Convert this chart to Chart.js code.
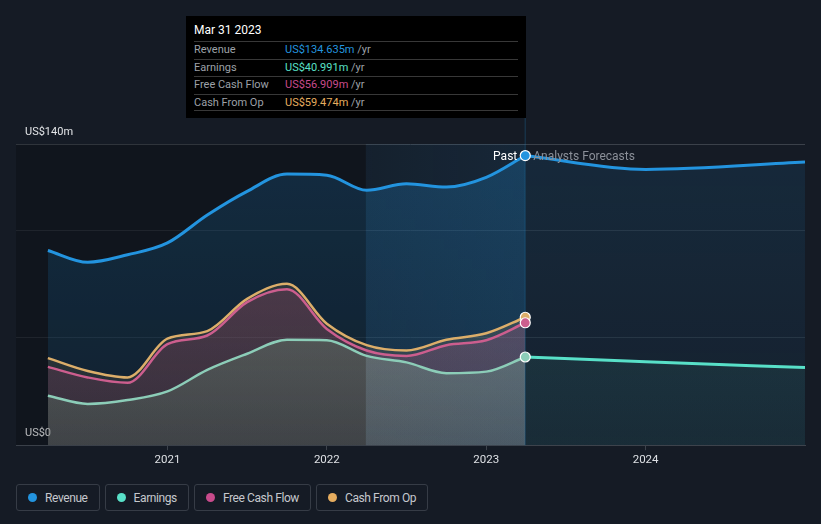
<!DOCTYPE html>
<html>
<head>
<meta charset="utf-8">
<script src="https://cdn.jsdelivr.net/npm/chart.js@4.4.1/dist/chart.umd.min.js"></script>
<style>
  html, body { margin: 0; padding: 0; background: #151b25; }
  body { width: 821px; height: 524px; position: relative; overflow: hidden; font-family: Roboto, "Noto Sans", sans-serif; }
  #wrap { position: absolute; left: 0; top: 0; width: 821px; height: 470px; }
  #tip { position: absolute; left: 186px; top: 16px; width: 340px; height: 102px; background: #000; }
  #tip .title { position: absolute; left: 8px; top: 7px; color: #fff; font-size: 12px; }
  #tip .row { position: absolute; left: 8px; width: 324px; height: 17px; border-top: 1px solid #383838; font-size: 11px; line-height: 15px; }
  #tip .lab { position: absolute; left: 0; color: #9da1a8; }
  #tip .val { position: absolute; left: 91px; }
  #tip .unit { color: #9da1a8; }
  #tip .last { position: absolute; left: 8px; width: 324px; top: 94px; border-top: 1px solid #383838; }
  #legend { position: absolute; left: 16px; top: 484px; display: flex; gap: 5px; }
  #legend .item { box-sizing: border-box; height: 27px; border: 1px solid #363c46; border-radius: 3px; padding: 0 11px 0 11px; display: flex; align-items: center; color: #c5c8cd; font-size: 12px; letter-spacing: -0.4px; font-family: Roboto, sans-serif; }
  #legend .dot { width: 9px; height: 9px; border-radius: 50%; margin-right: 8px; }
</style>
</head>
<body>
<div id="wrap"><canvas id="c"></canvas></div>
<div id="tip"></div>
<div id="legend"></div>
<script>
// ---------- data ----------
const seriesNames = ['Revenue', 'Earnings', 'Free Cash Flow', 'Cash From Op'];
const seriesColors = ['#2394df', '#58e0c8', '#c84b8c', '#e6ad5f'];
const pastX      = [2020.25, 2020.5, 2020.75, 2021.0, 2021.25, 2021.5, 2021.75, 2022.0, 2022.25, 2022.5, 2022.75, 2023.0, 2023.245];
const revenue    = [90.5, 85.0, 88.5, 94.0, 107.0, 118.0, 126.0, 125.5, 118.5, 121.5, 120.0, 124.5, 134.635];
const earnings   = [23.0, 19.2, 21.0, 25.0, 35.0, 42.5, 49.0, 48.8, 41.5, 38.5, 33.5, 34.2, 40.991];
const fcf        = [36.4, 31.5, 29.0, 47.0, 51.0, 66.5, 72.5, 54.0, 44.0, 41.5, 46.5, 48.8, 56.909];
const cfo        = [40.5, 34.5, 31.5, 49.5, 53.0, 68.0, 75.0, 56.5, 46.5, 44.0, 49.0, 52.0, 59.474];
const forecastX  = [2023.245, 2024.0, 2025.0];
const revenueFc  = [134.635, 128.2, 131.6];
const earningsFc = [40.991, 38.8, 36.1];
const yTicks     = [0, 50, 100, 140];
const xTicks     = [2021, 2022, 2023, 2024];
const highlightStart = 2022.245;
const tipDate = 'Mar 31 2023';

// ---------- helpers ----------
const pts = (xs, ys) => xs.map((x, i) => ({ x, y: ys[i] }));
function grad(r, g, b, aTop, aBot) {
  return (ctx) => {
    const ca = ctx.chart.chartArea;
    if (!ca) return `rgba(${r},${g},${b},${aTop})`;
    const gr = ctx.chart.ctx.createLinearGradient(0, ca.top, 0, ca.bottom);
    gr.addColorStop(0, `rgba(${r},${g},${b},${aTop})`);
    gr.addColorStop(1, `rgba(${r},${g},${b},${aBot})`);
    return gr;
  };
}
const lastOnly = (r) => (ctx) => ctx.dataIndex === ctx.dataset.data.length - 1 ? r : 0;

// ---------- tooltip box & legend (HTML text) ----------
const tip = document.getElementById('tip');
const lastVals = [revenue, earnings, fcf, cfo].map(a => a[a.length - 1]);
let html = `<div class="title">${tipDate}</div>`;
seriesNames.forEach((n, i) => {
  html += `<div class="row" style="top:${25 + i * 17.5}px"><span class="lab">${n}</span><span class="val"><span style="color:${seriesColors[i]}">US$${lastVals[i].toFixed(3)}m</span> <span class="unit">/yr</span></span></div>`;
});
html += `<div class="last"></div>`;
tip.innerHTML = html;

const legend = document.getElementById('legend');
seriesNames.forEach((n, i) => {
  const d = document.createElement('div');
  d.className = 'item';
  d.innerHTML = `<span class="dot" style="background:${seriesColors[i]}"></span>${n}`;
  legend.appendChild(d);
});

// ---------- background plugin ----------
const bgPlugin = {
  id: 'bg',
  beforeDatasetsDraw(chart) {
    const { ctx, chartArea: ca, scales: { x } } = chart;
    const xh = x.getPixelForValue(highlightStart);
    const xd = x.getPixelForValue(pastX[pastX.length - 1]);
    ctx.save();
    ctx.fillStyle = 'rgba(0,0,0,0.2)';
    ctx.fillRect(ca.left, ca.top, xh - ca.left, ca.bottom - ca.top);
    const hg = ctx.createLinearGradient(xh, 0, xd, 0);
    hg.addColorStop(0, 'rgba(35,148,223,0.05)');
    hg.addColorStop(1, 'rgba(35,148,223,0.10)');
    ctx.fillStyle = hg;
    ctx.fillRect(xh, ca.top, xd - xh, ca.bottom - ca.top);
    ctx.strokeStyle = 'rgba(35,148,223,0.18)';
    ctx.lineWidth = 1.5;
    ctx.beginPath();
    ctx.moveTo(xd, 16);
    ctx.lineTo(xd, ca.bottom);
    ctx.stroke();
    ctx.restore();
  },
  afterDatasetsDraw(chart) {
    const { ctx, scales: { x, y } } = chart;
    const xd = x.getPixelForValue(pastX[pastX.length - 1]);
    const yy = y.getPixelForValue(revenue[revenue.length - 1]) + 1;
    ctx.save();
    ctx.font = '12px Roboto, sans-serif';
    ctx.textBaseline = 'middle';
    ctx.textAlign = 'right';
    ctx.fillStyle = '#ffffff';
    ctx.fillText('Past', xd - 8, yy);
    ctx.textAlign = 'left';
    ctx.fillStyle = '#8b9099';
    ctx.fillText('Analysts Forecasts', xd + 8, yy);
    ctx.restore();
  }
};

// ---------- chart ----------
const line = (label, data, color, fill, order, width, point) => ({
  label, data, borderColor: color, backgroundColor: fill, fill: 'origin', order,
  borderWidth: width, cubicInterpolationMode: 'monotone',
  pointRadius: point ? lastOnly(5) : 0, pointHoverRadius: 0,
  pointBackgroundColor: color, pointBorderColor: '#ffffff', pointBorderWidth: 1.2
});

new Chart(document.getElementById('c'), {
  type: 'line',
  data: {
    datasets: [
      line('Revenue forecast', pts(forecastX, revenueFc), '#2394df', grad(35,148,223,0.12,0.05), 8, 3, false),
      line('Earnings forecast', pts(forecastX, earningsFc), '#58e0c8', grad(88,224,200,0.12,0.06), 7, 3, false),
      line('Revenue', pts(pastX, revenue), '#2394df', grad(35,148,223,0.24,0.12), 6, 3, true),
      line('Cash From Op', pts(pastX, cfo), '#dcae6a', grad(230,173,95,0.22,0.1), 5, 2.5, true),
      line('Free Cash Flow', pts(pastX, fcf), '#cc5e8e', grad(205,80,140,0.34,0.14), 4, 2.5, true),
      line('Earnings', pts(pastX, earnings), '#8ccdb8', grad(150,220,170,0.42,0.16), 3, 2.5, true)
    ]
  },
  options: {
    responsive: true,
    maintainAspectRatio: false,
    animation: false,
    events: [],
    layout: { padding: { left: 16, right: 16, top: 144, bottom: 0 } },
    plugins: {
      legend: { display: false },
      tooltip: { enabled: false },
      filler: { drawTime: 'beforeDatasetsDraw' }
    },
    scales: {
      x: {
        type: 'linear', min: 2020.05, max: 2025.0,
        afterBuildTicks: (s) => { s.ticks = xTicks.map(v => ({ value: v })); },
        ticks: { color: '#dde0e4', font: { size: 11.5, family: 'Roboto' }, padding: 3, callback: (v) => String(v) },
        grid: { drawOnChartArea: false, drawTicks: true, tickLength: 5, color: '#3d434c' },
        border: { display: true, color: '#3d434c', width: 1 }
      },
      y: {
        min: 0, max: 140,
        afterFit: (s) => { s.width = 0; },
        afterBuildTicks: (s) => { s.ticks = yTicks.map(v => ({ value: v })); },
        ticks: {
          mirror: true, padding: 9, labelOffset: -12, color: '#e3e5e8',
          font: { size: 11, family: 'Roboto' },
          callback: (v) => (v === 0 ? 'US$0' : v === 140 ? 'US$140m' : '')
        },
        grid: {
          drawTicks: false,
          color: (c) => c.tick && c.tick.value === 140 ? '#3b414a' : c.tick && c.tick.value === 0 ? 'rgba(0,0,0,0)' : '#272e38'
        },
        border: { display: false }
      }
    }
  },
  plugins: [bgPlugin]
});
</script>
</body>
</html>
